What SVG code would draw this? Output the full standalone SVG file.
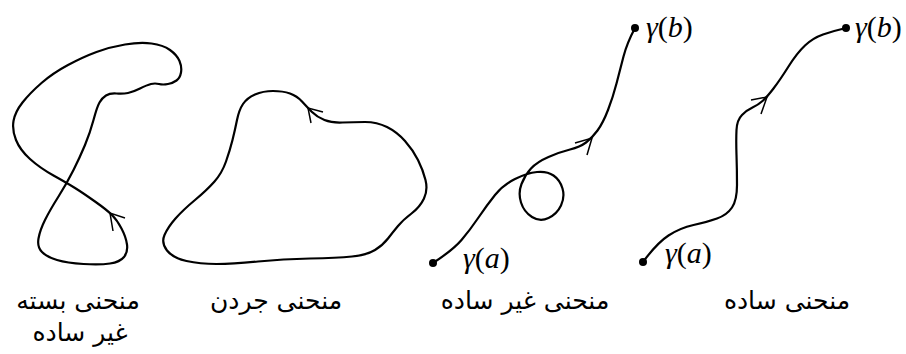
<svg xmlns="http://www.w3.org/2000/svg" width="906" height="354" viewBox="0 0 906 354">
<style>
.curve{fill:none;stroke:#000;stroke-width:2.2;stroke-linejoin:round;stroke-linecap:round}
.arr{fill:none;stroke:#000;stroke-width:1.5;stroke-linejoin:miter}
.dot{fill:#000}
.math{font-family:"Liberation Serif","DejaVu Serif",serif;font-size:30px;fill:#000}
.it{font-style:italic}
.fa{font-family:"DejaVu Sans",sans-serif;font-size:25px;fill:#000;text-anchor:middle}
</style>
<g id="closed-nonsimple">
<path class="curve" d="M125,44.5 Q140,42 151.5,43.5 Q163,45 170,50 Q177,55 179.5,61 Q182,67 181,72.5 Q180,78 176.5,80.5 Q173,83 168,84 Q163,85 159,84 Q155,83 151,84 Q147,85 140,88.5 Q133,92 128,93 Q123,94 116.5,93.5 Q110,93 106,95.5 Q102,98 99.5,102.5 Q97,107 93.5,120 Q90,133 85,145 Q80,157 73.5,170 Q67,183 58.5,196.5 Q50,210 45,220 Q40,230 38.5,238.5 Q37,247 42,252 Q47,257 57,260 Q67,263 83.5,264 Q100,265 110,263.5 Q120,262 124,257 Q128,252 127,244.5 Q126,237 121.5,228.5 Q117,220 112,215 Q107,210 95,201.5 Q83,193 75,188 Q67,183 53.5,175.5 Q40,168 30,159 Q20,150 16,140 Q12,130 13.5,121 Q15,112 22.5,102.5 Q30,93 41.5,83 Q53,73 68,65 Q83,57 96.5,52 Q110,47 125,44.5 Z"/>
<polyline class="arr" points="125,218 110,213 113,231"/>
<text class="fa" x="78" y="309">منحنی بسته</text>
<text class="fa" x="80" y="341">غیر ساده</text>
</g>
<g id="jordan">
<path class="curve" d="M342.5,122.5 Q332,123 324.5,120 Q317,117 312,112 Q307,107 302,101.5 Q297,96 290,93.5 Q283,91 273,91 Q263,91 255,94.5 Q247,98 243,104 Q239,110 237,120 Q235,130 232.5,140 Q230,150 226,161.5 Q222,173 214.5,181.5 Q207,190 195,200 Q183,210 175.5,218.5 Q168,227 164.5,235 Q161,243 167,250.5 Q173,258 186.5,261 Q200,264 216.5,264 Q233,264 258,261.5 Q283,259 310,258.5 Q337,258 352,256.5 Q367,255 375,250 Q383,245 388,238.5 Q393,232 398,226 Q403,220 411.5,213.5 Q420,207 424,198.5 Q428,190 425.5,180 Q423,170 418,160 Q413,150 405,141 Q397,132 387,127 Q377,122 365,122 Q353,122 342.5,122.5 Z"/>
<polyline class="arr" points="323,112 308,108 311,123"/>
<text class="fa" x="276" y="309">منحنی جردن</text>
</g>
<g id="nonsimple">
<path class="curve" d="M433,263 Q453,250 461.5,240 Q470,230 478.5,217.5 Q487,205 495,195 Q503,185 515,179 Q527,173 537,172 Q547,171 553.5,175.5 Q560,180 562.5,188.5 Q565,197 561,205.5 Q557,214 548.5,218 Q540,222 532,217 Q524,212 521,202.5 Q518,193 521.5,184 Q525,175 531,168.5 Q537,162 548.5,157 Q560,152 570,149.5 Q580,147 586,142.5 Q592,138 597.5,130.5 Q603,123 608,110 Q613,97 616.5,83.5 Q620,70 623.5,56.5 Q627,43 635,28"/>
<polyline class="arr" points="575,143 592,138 587,155"/>
<circle class="dot" cx="433" cy="263" r="4"/>
<circle class="dot" cx="635" cy="28" r="4"/>
<text class="math" x="463" y="268"><tspan class="it">γ</tspan>(<tspan class="it">a</tspan>)</text>
<text class="math" x="646" y="37"><tspan class="it">γ</tspan>(<tspan class="it">b</tspan>)</text>
<text class="fa" x="525" y="309">منحنی غیر ساده</text>
</g>
<g id="simple">
<path class="curve" d="M643,262 Q657,243 668.5,235.5 Q680,228 693.5,225 Q707,222 717,218.5 Q727,215 732,207.5 Q737,200 737,185 Q737,170 736.5,155 Q736,140 736.5,130 Q737,120 742,115 Q747,110 752.5,107.5 Q758,105 762.5,101 Q767,97 773.5,88.5 Q780,80 788.5,66.5 Q797,53 805,45.5 Q813,38 823,34.5 Q833,31 846,28"/>
<polyline class="arr" points="751,100 767,97 761,114"/>
<circle class="dot" cx="643" cy="262" r="4"/>
<circle class="dot" cx="846" cy="28" r="4"/>
<text class="math" x="665" y="263"><tspan class="it">γ</tspan>(<tspan class="it">a</tspan>)</text>
<text class="math" x="855" y="37"><tspan class="it">γ</tspan>(<tspan class="it">b</tspan>)</text>
<text class="fa" x="787" y="309">منحنی ساده</text>
</g>
</svg>
